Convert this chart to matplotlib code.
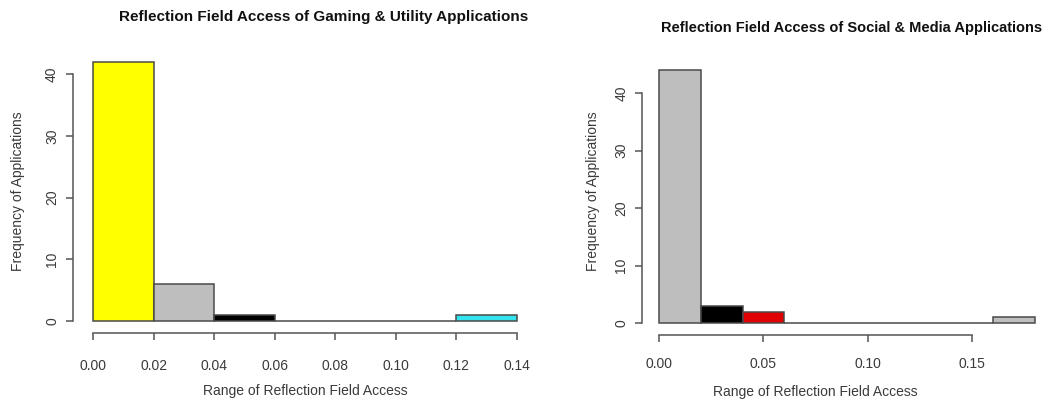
import matplotlib
matplotlib.use('agg')
import matplotlib.pyplot as plt

plt.rcParams['font.family'] = ['Liberation Sans', 'DejaVu Sans']

# gaming & utility
game_edges = [0.00, 0.02, 0.04, 0.06, 0.08, 0.10, 0.12, 0.14]
game_counts = [42, 6, 1, 0, 0, 0, 1]
game_colors = ['#ffff00', '#bebebe', '#000000', '#bebebe', '#bebebe', '#bebebe', '#33e3ee']
game_xticks = [0.00, 0.02, 0.04, 0.06, 0.08, 0.10, 0.12, 0.14]
game_xlabels = ['0.00', '0.02', '0.04', '0.06', '0.08', '0.10', '0.12', '0.14']

# social & media
social_edges = [0.00, 0.02, 0.04, 0.06, 0.08, 0.10, 0.12, 0.14, 0.16, 0.18]
social_counts = [44, 3, 2, 0, 0, 0, 0, 0, 1]
social_colors = ['#bebebe', '#000000', '#e00000', '#bebebe', '#bebebe', '#bebebe',
                 '#bebebe', '#bebebe', '#bebebe']
social_xticks = [0.00, 0.05, 0.10, 0.15]
social_xlabels = ['0.00', '0.05', '0.10', '0.15']

yticks = [0, 10, 20, 30, 40]

W, H = 1048, 405
fig = plt.figure(figsize=(W / 100, H / 100), dpi=100)

axis_col = '#555555'
text_col = '#3a3a3a'


def r_hist(rect, edges, counts, colors, xticks, xlabels, title, tsize, ymax, yoff, xoff,
           xpad, ypad, title_xy, ylab_x, xlab_y):
    ax = fig.add_axes(rect)
    widths = [edges[i + 1] - edges[i] for i in range(len(counts))]
    bars = ax.bar(edges[:-1], counts, width=widths, align='edge', color=colors,
                  edgecolor='#4a4a4a', linewidth=1.1)
    for b in bars:
        b.set_clip_on(False)
    ax.set_xlim(edges[0], edges[-1])
    ax.set_ylim(0, ymax)
    for s in ['top', 'right']:
        ax.spines[s].set_visible(False)
    ax.spines['left'].set_position(('outward', yoff))
    ax.spines['bottom'].set_position(('outward', xoff))
    ax.spines['left'].set_bounds(yticks[0], yticks[-1])
    ax.spines['bottom'].set_bounds(xticks[0], xticks[-1])
    for s in ['left', 'bottom']:
        ax.spines[s].set_color(axis_col)
        ax.spines[s].set_linewidth(1.1)
    ax.set_yticks(yticks)
    ax.set_yticklabels([str(v) for v in yticks], rotation=90, va='center')
    ax.set_xticks(xticks)
    ax.set_xticklabels(xlabels)
    ax.tick_params(colors=axis_col, labelcolor=text_col, labelsize=10, length=5, width=1.1)
    ax.tick_params(axis='x', pad=xpad)
    ax.tick_params(axis='y', pad=ypad)
    fig.text(title_xy[0] / W, 1 - title_xy[1] / H, title, ha='center', va='center',
             fontsize=tsize, fontweight='bold', color='#111111')
    fig.text(ylab_x / W, 1 - 191 / H, 'Frequency of Applications', rotation=90,
             ha='center', va='center', fontsize=10, color=text_col)
    x_mid = rect[0] + rect[2] * (xticks[-1] - edges[0]) / (edges[-1] - edges[0]) / 2
    fig.text(x_mid, 1 - xlab_y / H, 'Range of Reflection Field Access',
             ha='center', va='center', fontsize=10, color=text_col)
    return ax


r_hist([93 / W, (H - 321) / H, 424 / W, (321 - 62) / H],
       game_edges, game_counts, game_colors, game_xticks, game_xlabels,
       'Reflection Field Access of Gaming & Utility Applications', 11, 42,
       14.4, 8.6, 14, 5, (324, 17), 18, 391)

r_hist([659 / W, (H - 323) / H, 376 / W, (323 - 70) / H],
       social_edges, social_counts, social_colors, social_xticks, social_xlabels,
       'Reflection Field Access of Social & Media Applications', 10.5, 44,
       12.2, 8.6, 11, 5, (852, 28), 593, 392)

fig.savefig('out.png', dpi=100)
